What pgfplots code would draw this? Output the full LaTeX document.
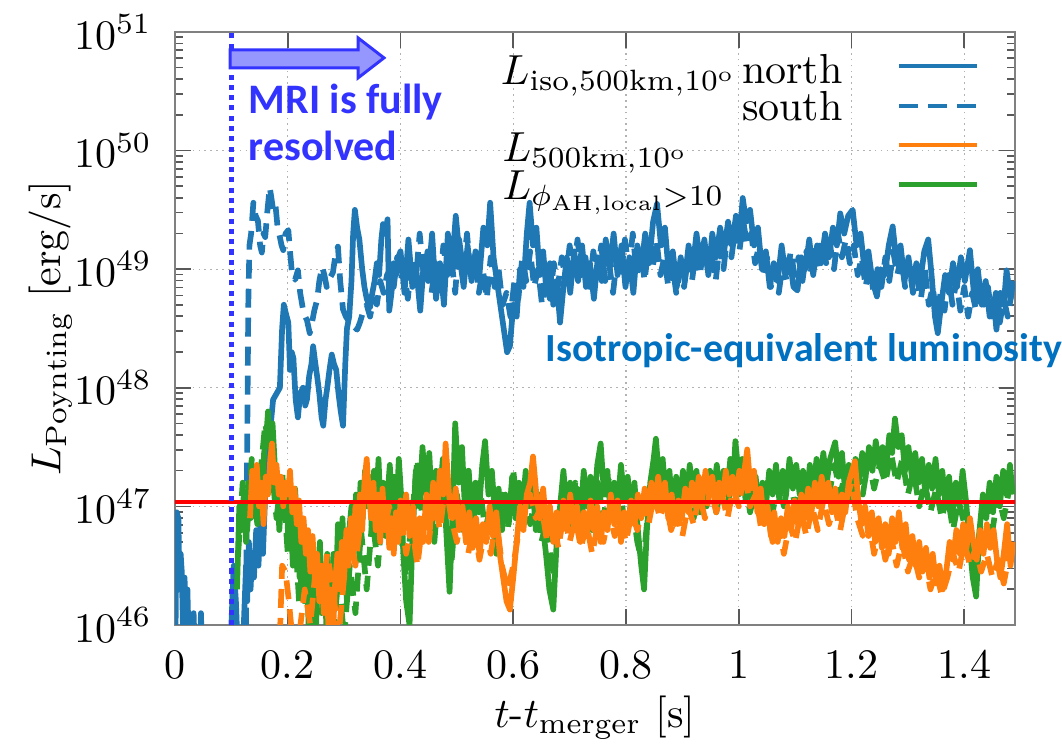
\documentclass[border=0pt]{standalone}
\usepackage{fontspec}
\usepackage{pgfplots}
\pgfplotsset{compat=1.18}
\usepackage{pgfplotstable}
\newfontfamily\carlito{Carlito}
\definecolor{cblue}{RGB}{31,119,180}
\definecolor{corange}{RGB}{255,127,14}
\definecolor{cgreen}{RGB}{44,160,44}
\definecolor{mriblue}{RGB}{51,51,255}
\definecolor{arrowfill}{RGB}{150,150,255}
\definecolor{isoblue}{RGB}{0,112,192}

% blue, north (solid): t, log10 L
\pgfplotstableread[row sep=\\]{
t L\\
0.000 45.5\\ 0.003 46.95\\ 0.006 46.9\\ 0.008 46.3\\ 0.010 46.6\\ 0.012 46.45\\ 0.014 46.0\\ 0.017 46.4\\
0.019 45.9\\ 0.022 46.3\\ 0.025 45.7\\ 0.030 45.6\\ 0.033 46.1\\ 0.036 45.6\\ 0.043 45.6\\ 0.046 46.1\\
0.049 45.6\\ 0.060 45.5\\ 0.070 45.5\\ 0.080 45.5\\ 0.095 45.5\\ 0.100 46.0\\ 0.104 46.5\\ 0.108 46.2\\
0.112 45.7\\ 0.118 45.6\\ 0.122 46.0\\ 0.126 46.5\\ 0.128 46.2\\ 0.131 46.7\\ 0.134 46.3\\ 0.137 46.6\\
0.140 46.4\\ 0.144 46.8\\ 0.148 46.5\\ 0.152 46.9\\ 0.156 46.6\\ 0.160 47.1\\ 0.164 47.4\\ 0.168 47.6\\
0.174 47.9\\ 0.180 47.95\\ 0.186 48.0\\ 0.190 48.5\\ 0.193 48.7\\ 0.197 48.62\\ 0.201 48.55\\ 0.204 48.15\\
0.207 48.3\\ 0.210 48.25\\ 0.214 47.9\\ 0.218 47.75\\ 0.222 47.95\\ 0.227 48.0\\ 0.231 47.85\\ 0.234 47.9\\
0.238 48.1\\ 0.242 48.2\\ 0.245 48.35\\ 0.249 48.2\\ 0.252 48.1\\ 0.256 47.95\\ 0.260 47.75\\ 0.263 47.68\\
0.267 47.9\\ 0.270 48.0\\ 0.274 48.15\\ 0.278 48.28\\ 0.282 48.2\\ 0.286 48.15\\ 0.290 47.95\\ 0.294 47.8\\
0.298 47.68\\ 0.302 48.2\\ 0.305 48.5\\ 0.309 48.6\\ 0.313 48.9\\ 0.316 49.3\\ 0.319 49.5\\ 0.323 49.35\\
0.327 49.25\\ 0.332 49.0\\ 0.336 48.85\\ 0.340 48.75\\ 0.346 48.68\\ 0.350 48.8\\ 0.354 48.9\\ 0.358 49.05\\
0.362 48.95\\ 0.366 49.25\\ 0.369 49.38\\ 0.373 49.3\\ 0.377 49.42\\ 0.380 48.65\\ 0.384 48.8\\ 0.388 49.05\\
0.392 48.95\\ 0.396 49.1\\ 0.400 49.15\\ 0.407 48.8\\ 0.414 49.25\\ 0.421 48.85\\ 0.428 49.0\\ 0.435 48.65\\
0.442 49.1\\ 0.449 48.9\\ 0.456 49.3\\ 0.463 48.75\\ 0.470 49.05\\ 0.477 48.7\\ 0.484 49.3\\ 0.491 49.0\\
0.498 49.45\\ 0.505 49.1\\ 0.512 48.85\\ 0.519 49.2\\ 0.526 48.9\\ 0.533 49.15\\ 0.540 48.95\\ 0.547 49.35\\
0.554 49.2\\ 0.559 49.56\\ 0.565 49.1\\ 0.571 48.9\\ 0.577 48.7\\ 0.583 48.5\\ 0.589 48.3\\ 0.594 48.35\\
0.600 48.7\\ 0.606 48.6\\ 0.612 49.0\\ 0.618 48.85\\ 0.624 49.3\\ 0.629 49.56\\ 0.635 49.2\\ 0.641 49.35\\
0.647 48.95\\ 0.653 49.15\\ 0.659 48.8\\ 0.665 49.05\\ 0.671 48.7\\ 0.677 48.9\\ 0.683 48.55\\ 0.689 48.85\\
0.695 49.1\\ 0.701 48.8\\ 0.708 49.15\\ 0.715 48.9\\ 0.722 49.2\\ 0.729 48.85\\ 0.736 49.05\\ 0.743 48.75\\
0.750 49.1\\ 0.757 48.9\\ 0.764 49.25\\ 0.771 49.0\\ 0.778 49.3\\ 0.785 48.95\\ 0.792 49.2\\ 0.799 48.85\\
0.806 49.1\\ 0.813 48.8\\ 0.820 49.2\\ 0.827 49.0\\ 0.834 49.3\\ 0.841 49.05\\ 0.848 49.4\\ 0.855 49.55\\
0.862 49.2\\ 0.869 49.35\\ 0.876 48.95\\ 0.883 49.15\\ 0.890 48.85\\ 0.897 49.1\\ 0.904 48.9\\ 0.911 49.2\\
0.918 49.0\\ 0.925 49.3\\ 0.932 49.05\\ 0.939 49.25\\ 0.946 48.95\\ 0.953 49.3\\ 0.960 49.1\\ 0.967 49.35\\
0.974 49.15\\ 0.981 49.4\\ 0.988 49.2\\ 0.995 49.45\\ 1.002 49.3\\ 1.007 49.6\\ 1.013 49.4\\ 1.020 49.5\\
1.027 49.2\\ 1.034 49.35\\ 1.041 49.0\\ 1.048 49.15\\ 1.055 48.85\\ 1.062 49.05\\ 1.069 48.9\\ 1.076 49.2\\
1.083 48.95\\ 1.090 49.1\\ 1.097 48.85\\ 1.104 48.82\\ 1.111 49.1\\ 1.118 49.0\\ 1.125 49.25\\ 1.132 48.95\\
1.139 49.2\\ 1.146 49.05\\ 1.153 49.3\\ 1.160 49.1\\ 1.167 49.35\\ 1.174 49.2\\ 1.180 49.47\\ 1.187 49.3\\
1.194 49.45\\ 1.202 49.5\\ 1.209 49.2\\ 1.216 49.3\\ 1.223 49.0\\ 1.230 49.15\\ 1.237 48.9\\ 1.245 48.77\\
1.252 49.0\\ 1.259 48.95\\ 1.266 49.2\\ 1.273 49.36\\ 1.280 49.05\\ 1.287 49.2\\ 1.294 48.9\\ 1.301 49.1\\
1.308 48.85\\ 1.315 49.05\\ 1.322 48.9\\ 1.329 49.15\\ 1.336 49.25\\ 1.342 48.95\\ 1.348 48.6\\ 1.353 48.46\\
1.359 48.7\\ 1.366 48.95\\ 1.373 48.8\\ 1.380 49.05\\ 1.387 48.85\\ 1.394 49.1\\ 1.401 48.9\\ 1.410 49.16\\
1.417 48.8\\ 1.424 49.0\\ 1.431 48.7\\ 1.438 48.9\\ 1.445 48.6\\ 1.452 48.75\\ 1.457 48.49\\ 1.464 48.8\\
1.470 48.7\\ 1.475 48.99\\ 1.482 48.75\\ 1.487 48.9\\
}\bluenorth

% blue, south (dashed)
\pgfplotstableread[row sep=\\]{
t L\\
0.120 45.5\\ 0.126 46.0\\ 0.128 47.5\\ 0.130 48.7\\ 0.132 49.2\\ 0.135 49.3\\ 0.139 49.56\\ 0.143 49.45\\
0.147 49.41\\ 0.151 49.2\\ 0.154 49.14\\ 0.157 49.3\\ 0.160 49.27\\ 0.164 49.5\\ 0.168 49.69\\ 0.171 49.6\\
0.174 49.5\\ 0.178 49.55\\ 0.182 49.35\\ 0.186 49.27\\ 0.189 49.2\\ 0.192 49.16\\ 0.196 49.3\\ 0.201 49.33\\
0.204 49.15\\ 0.207 48.99\\ 0.210 48.95\\ 0.213 48.91\\ 0.218 48.99\\ 0.222 48.8\\ 0.227 48.66\\ 0.231 48.6\\
0.234 48.57\\ 0.239 48.46\\ 0.243 48.55\\ 0.247 48.65\\ 0.252 48.74\\ 0.256 48.9\\ 0.261 49.02\\ 0.265 48.95\\
0.269 48.85\\ 0.274 48.92\\ 0.280 48.97\\ 0.284 49.1\\ 0.289 49.19\\ 0.293 48.9\\ 0.298 48.66\\ 0.303 48.6\\
0.310 48.55\\ 0.316 48.52\\ 0.323 48.49\\ 0.328 48.55\\ 0.333 48.63\\ 0.340 48.7\\ 0.346 48.6\\ 0.352 48.75\\
0.358 48.7\\ 0.364 48.9\\ 0.370 48.8\\ 0.376 48.95\\ 0.382 49.0\\ 0.388 48.85\\ 0.394 49.1\\ 0.400 48.9\\
0.406 49.0\\ 0.413 48.75\\ 0.420 49.1\\ 0.427 48.9\\ 0.434 49.3\\ 0.441 48.95\\ 0.448 49.15\\ 0.455 48.8\\
0.462 49.05\\ 0.469 48.85\\ 0.476 49.2\\ 0.483 48.95\\ 0.490 49.1\\ 0.497 48.8\\ 0.504 49.25\\ 0.511 49.0\\
0.518 49.3\\ 0.525 48.9\\ 0.532 49.1\\ 0.539 48.8\\ 0.546 49.0\\ 0.553 48.75\\ 0.560 49.1\\ 0.567 48.85\\
0.574 49.0\\ 0.581 48.7\\ 0.588 48.8\\ 0.595 48.6\\ 0.602 48.9\\ 0.609 48.75\\ 0.616 49.1\\ 0.623 48.9\\
0.630 49.15\\ 0.637 48.85\\ 0.644 49.0\\ 0.651 48.7\\ 0.658 48.9\\ 0.665 48.75\\ 0.672 49.05\\ 0.679 48.85\\
0.686 49.1\\ 0.693 48.9\\ 0.700 49.2\\ 0.707 49.0\\ 0.714 49.25\\ 0.721 48.95\\ 0.728 49.1\\ 0.735 48.85\\
0.742 49.15\\ 0.749 48.95\\ 0.756 49.2\\ 0.763 48.9\\ 0.770 49.05\\ 0.777 48.8\\ 0.784 49.1\\ 0.791 48.95\\
0.798 49.25\\ 0.805 49.0\\ 0.812 49.3\\ 0.819 48.95\\ 0.826 49.15\\ 0.833 48.9\\ 0.840 49.2\\ 0.847 49.0\\
0.854 49.25\\ 0.861 48.95\\ 0.868 49.1\\ 0.875 48.85\\ 0.882 49.05\\ 0.889 48.8\\ 0.896 49.0\\ 0.903 48.85\\
0.910 49.1\\ 0.917 48.9\\ 0.924 49.15\\ 0.931 48.95\\ 0.938 49.2\\ 0.945 49.0\\ 0.952 49.1\\ 0.959 48.9\\
0.966 49.2\\ 0.973 49.0\\ 0.980 49.3\\ 0.987 49.1\\ 0.994 49.35\\ 1.001 49.15\\ 1.008 49.4\\ 1.015 49.2\\
1.022 49.3\\ 1.029 49.05\\ 1.036 49.2\\ 1.043 48.95\\ 1.050 49.1\\ 1.057 48.85\\ 1.064 49.0\\ 1.071 48.8\\
1.078 49.05\\ 1.085 48.9\\ 1.092 49.15\\ 1.099 48.95\\ 1.106 49.1\\ 1.113 48.9\\ 1.120 49.15\\ 1.127 48.95\\
1.134 49.2\\ 1.141 49.0\\ 1.148 49.25\\ 1.155 49.05\\ 1.162 49.2\\ 1.169 49.0\\ 1.176 49.3\\ 1.183 49.1\\
1.190 49.25\\ 1.197 49.05\\ 1.204 49.2\\ 1.211 48.95\\ 1.218 49.1\\ 1.225 48.85\\ 1.232 49.05\\ 1.239 48.8\\
1.246 49.0\\ 1.253 48.85\\ 1.260 49.1\\ 1.267 48.9\\ 1.274 49.15\\ 1.281 48.95\\ 1.288 49.1\\ 1.295 48.85\\
1.302 49.05\\ 1.309 48.8\\ 1.316 48.95\\ 1.323 48.75\\ 1.330 49.0\\ 1.337 48.7\\ 1.344 48.85\\ 1.351 48.6\\
1.358 48.8\\ 1.365 48.65\\ 1.372 48.95\\ 1.379 48.7\\ 1.386 48.9\\ 1.393 48.65\\ 1.400 48.85\\ 1.407 48.6\\
1.414 48.8\\ 1.421 48.65\\ 1.428 48.9\\ 1.435 48.7\\ 1.442 48.85\\ 1.449 48.6\\ 1.456 48.8\\ 1.463 48.55\\
1.470 48.75\\ 1.477 48.6\\ 1.484 48.8\\
}\bluesouth

% green, north (solid)
\pgfplotstableread[row sep=\\]{
t L\\
0.110 46.3\\ 0.114 47.0\\ 0.118 46.8\\ 0.122 47.1\\ 0.126 46.7\\ 0.130 47.2\\ 0.134 46.9\\ 0.138 47.3\\
0.142 47.0\\ 0.146 46.85\\ 0.150 47.3\\ 0.154 47.1\\ 0.158 47.45\\ 0.162 47.6\\ 0.165 47.8\\ 0.169 47.5\\
0.173 47.7\\ 0.177 47.35\\ 0.181 47.2\\ 0.185 46.8\\ 0.189 47.1\\ 0.193 46.9\\ 0.197 47.2\\ 0.201 46.7\\
0.205 46.95\\ 0.209 46.5\\ 0.213 47.15\\ 0.217 46.8\\ 0.221 46.4\\ 0.225 46.7\\ 0.229 46.2\\ 0.233 46.55\\
0.237 46.0\\ 0.241 46.6\\ 0.245 46.3\\ 0.249 45.8\\ 0.253 46.4\\ 0.257 46.7\\ 0.261 46.2\\ 0.265 46.5\\
0.269 45.9\\ 0.273 46.3\\ 0.277 46.0\\ 0.281 46.6\\ 0.285 46.2\\ 0.289 46.85\\ 0.293 46.4\\ 0.297 46.9\\
0.301 46.5\\ 0.305 46.2\\ 0.309 46.8\\ 0.313 47.0\\ 0.317 46.6\\ 0.321 47.1\\ 0.325 46.7\\ 0.329 47.2\\
0.333 46.9\\ 0.337 47.3\\ 0.341 47.0\\ 0.345 47.25\\ 0.349 46.8\\ 0.353 47.3\\ 0.357 47.05\\ 0.361 47.4\\
0.365 46.9\\ 0.369 47.2\\ 0.373 46.75\\ 0.377 47.1\\ 0.381 47.35\\ 0.385 46.95\\ 0.389 47.25\\ 0.393 47.0\\
0.397 47.4\\ 0.401 47.1\\ 0.405 46.6\\ 0.410 46.2\\ 0.416 46.0\\ 0.421 46.7\\ 0.427 47.3\\ 0.433 47.0\\
0.439 47.5\\ 0.445 47.1\\ 0.451 47.45\\ 0.457 46.9\\ 0.463 47.3\\ 0.469 47.05\\ 0.475 47.4\\ 0.481 46.8\\
0.487 46.28\\ 0.492 46.9\\ 0.497 47.7\\ 0.503 47.2\\ 0.509 47.5\\ 0.515 46.9\\ 0.521 47.3\\ 0.527 46.85\\
0.533 47.2\\ 0.539 46.95\\ 0.545 47.35\\ 0.550 47.55\\ 0.556 47.1\\ 0.562 47.3\\ 0.568 46.9\\ 0.574 47.15\\
0.580 46.8\\ 0.586 47.1\\ 0.592 46.85\\ 0.598 47.25\\ 0.604 46.9\\ 0.610 47.2\\ 0.616 46.95\\ 0.622 47.3\\
0.628 47.0\\ 0.634 47.2\\ 0.640 46.8\\ 0.646 47.1\\ 0.652 46.85\\ 0.658 46.6\\ 0.664 46.3\\ 0.671 46.13\\
0.677 46.7\\ 0.683 47.0\\ 0.689 47.3\\ 0.695 46.95\\ 0.701 47.2\\ 0.707 46.85\\ 0.713 47.15\\ 0.719 46.9\\
0.725 47.3\\ 0.731 47.0\\ 0.737 47.25\\ 0.743 46.95\\ 0.749 47.35\\ 0.755 47.53\\ 0.761 47.1\\ 0.767 47.3\\
0.773 46.9\\ 0.779 47.2\\ 0.785 47.0\\ 0.791 47.35\\ 0.797 47.05\\ 0.803 47.25\\ 0.809 46.95\\ 0.815 47.2\\
0.821 46.8\\ 0.827 46.5\\ 0.832 46.3\\ 0.837 46.8\\ 0.843 47.2\\ 0.849 47.4\\ 0.853 47.57\\ 0.859 47.2\\
0.865 47.4\\ 0.871 47.05\\ 0.877 47.3\\ 0.883 46.95\\ 0.889 47.25\\ 0.895 47.0\\ 0.901 47.3\\ 0.907 47.05\\
0.913 47.35\\ 0.919 47.1\\ 0.925 47.3\\ 0.931 46.95\\ 0.937 47.2\\ 0.943 47.0\\ 0.949 47.3\\ 0.955 47.1\\
0.961 47.35\\ 0.967 47.05\\ 0.973 47.3\\ 0.979 47.1\\ 0.985 47.4\\ 0.990 47.2\\ 0.994 47.55\\ 1.000 47.25\\
1.006 47.4\\ 1.012 47.05\\ 1.018 47.3\\ 1.024 47.0\\ 1.030 47.25\\ 1.036 46.95\\ 1.042 47.2\\ 1.048 47.0\\
1.054 47.3\\ 1.060 47.1\\ 1.066 47.35\\ 1.072 47.05\\ 1.078 47.3\\ 1.084 47.1\\ 1.090 47.4\\ 1.096 47.15\\
1.102 47.35\\ 1.108 47.1\\ 1.114 47.3\\ 1.120 47.05\\ 1.126 47.35\\ 1.132 47.15\\ 1.138 47.4\\ 1.144 47.2\\
1.150 47.45\\ 1.156 47.2\\ 1.162 47.4\\ 1.171 47.54\\ 1.177 47.25\\ 1.183 47.45\\ 1.189 47.1\\ 1.195 47.35\\
1.201 47.15\\ 1.207 47.4\\ 1.213 47.2\\ 1.219 47.45\\ 1.225 47.25\\ 1.231 47.5\\ 1.237 47.3\\ 1.243 47.55\\
1.249 47.35\\ 1.255 47.5\\ 1.261 47.3\\ 1.267 47.6\\ 1.272 47.45\\ 1.277 47.74\\ 1.283 47.5\\ 1.289 47.6\\
1.295 47.3\\ 1.301 47.5\\ 1.307 47.25\\ 1.313 47.45\\ 1.319 47.2\\ 1.325 47.4\\ 1.331 47.1\\ 1.337 47.35\\
1.343 47.15\\ 1.349 47.4\\ 1.355 47.1\\ 1.361 47.3\\ 1.367 47.0\\ 1.373 47.25\\ 1.379 46.95\\ 1.385 47.2\\
1.391 47.0\\ 1.397 47.3\\ 1.403 47.05\\ 1.409 46.7\\ 1.415 46.4\\ 1.421 46.24\\ 1.427 46.8\\ 1.433 47.1\\
1.439 46.9\\ 1.445 47.2\\ 1.451 46.95\\ 1.457 47.25\\ 1.463 47.0\\ 1.469 47.3\\ 1.475 47.1\\ 1.481 47.35\\
1.486 47.1\\
}\greennorth

% green, south (dashed)
\pgfplotstableread[row sep=\\]{
t L\\
0.112 46.6\\ 0.120 47.2\\ 0.128 46.8\\ 0.136 47.4\\ 0.144 46.9\\ 0.152 47.3\\ 0.160 47.7\\ 0.170 47.4\\
0.180 46.9\\ 0.190 47.3\\ 0.200 46.6\\ 0.210 47.0\\ 0.220 46.2\\ 0.230 46.7\\ 0.240 45.9\\ 0.250 46.5\\
0.260 46.1\\ 0.270 46.6\\ 0.280 45.9\\ 0.290 46.4\\ 0.300 45.9\\ 0.310 46.5\\ 0.320 46.1\\ 0.330 46.8\\
0.340 46.3\\ 0.350 46.9\\ 0.360 46.5\\ 0.370 47.1\\ 0.380 46.7\\ 0.390 47.2\\ 0.400 46.8\\ 0.410 46.4\\
0.420 46.9\\ 0.430 47.4\\ 0.440 46.8\\ 0.450 47.2\\ 0.460 46.7\\ 0.470 47.3\\ 0.480 46.9\\ 0.490 46.5\\
0.500 47.1\\ 0.510 46.8\\ 0.520 47.3\\ 0.530 46.9\\ 0.540 47.2\\ 0.550 46.8\\ 0.560 47.0\\ 0.570 46.6\\
0.580 47.1\\ 0.590 46.8\\ 0.600 47.3\\ 0.610 46.9\\ 0.620 47.2\\ 0.630 46.85\\ 0.640 47.1\\ 0.650 46.7\\
0.660 46.9\\ 0.670 46.4\\ 0.680 46.8\\ 0.690 47.1\\ 0.700 46.8\\ 0.710 47.2\\ 0.720 46.9\\ 0.730 47.15\\
0.740 46.8\\ 0.750 47.2\\ 0.760 46.9\\ 0.770 47.25\\ 0.780 46.95\\ 0.790 47.1\\ 0.800 46.8\\ 0.810 47.05\\
0.820 46.7\\ 0.830 46.5\\ 0.840 47.0\\ 0.850 47.3\\ 0.860 47.0\\ 0.870 47.25\\ 0.880 46.9\\ 0.890 47.15\\
0.900 46.95\\ 0.910 47.2\\ 0.920 46.9\\ 0.930 47.15\\ 0.940 47.0\\ 0.950 47.25\\ 0.960 46.95\\ 0.970 47.2\\
0.980 47.0\\ 0.990 47.3\\ 1.000 47.1\\ 1.010 47.25\\ 1.020 46.95\\ 1.030 47.15\\ 1.040 46.9\\ 1.050 47.2\\
1.060 46.95\\ 1.070 47.2\\ 1.080 47.0\\ 1.090 47.25\\ 1.100 47.0\\ 1.110 47.2\\ 1.120 46.95\\ 1.130 47.25\\
1.140 47.05\\ 1.150 47.3\\ 1.160 47.1\\ 1.170 47.35\\ 1.180 47.1\\ 1.190 47.3\\ 1.200 47.05\\ 1.210 47.3\\
1.220 47.1\\ 1.230 47.4\\ 1.240 47.15\\ 1.250 47.35\\ 1.260 47.2\\ 1.270 47.45\\ 1.280 47.2\\ 1.290 47.4\\
1.300 47.1\\ 1.310 47.3\\ 1.320 47.0\\ 1.330 47.2\\ 1.340 46.95\\ 1.350 47.15\\ 1.360 46.9\\ 1.370 47.1\\
1.380 46.8\\ 1.390 47.05\\ 1.400 46.85\\ 1.410 46.6\\ 1.420 46.5\\ 1.430 46.9\\ 1.440 47.0\\ 1.450 46.8\\
1.460 47.1\\ 1.470 46.9\\ 1.480 47.15\\
}\greensouth

% orange, north (solid)
\pgfplotstableread[row sep=\\]{
t L\\
0.133 46.9\\ 0.137 47.3\\ 0.141 47.05\\ 0.145 47.35\\ 0.149 47.0\\ 0.153 47.2\\ 0.157 46.85\\ 0.161 47.25\\
0.165 47.1\\ 0.169 47.4\\ 0.172 47.53\\ 0.176 47.2\\ 0.180 47.35\\ 0.184 47.1\\ 0.188 47.25\\ 0.192 47.0\\
0.196 47.2\\ 0.200 47.1\\ 0.204 47.3\\ 0.208 46.95\\ 0.212 47.15\\ 0.216 46.85\\ 0.220 47.05\\ 0.224 46.7\\
0.228 46.9\\ 0.232 46.6\\ 0.236 46.8\\ 0.240 46.45\\ 0.244 46.75\\ 0.248 46.4\\ 0.252 46.6\\ 0.256 46.2\\
0.260 46.5\\ 0.264 46.1\\ 0.268 46.45\\ 0.272 46.0\\ 0.276 46.3\\ 0.280 45.9\\ 0.284 46.35\\ 0.288 46.6\\
0.292 46.3\\ 0.296 46.7\\ 0.300 46.4\\ 0.304 46.8\\ 0.308 46.5\\ 0.312 46.9\\ 0.316 46.6\\ 0.320 47.0\\
0.324 46.7\\ 0.328 47.1\\ 0.332 46.8\\ 0.336 47.2\\ 0.340 47.4\\ 0.344 47.1\\ 0.348 46.9\\ 0.352 47.2\\
0.356 46.8\\ 0.360 47.0\\ 0.364 46.7\\ 0.368 47.15\\ 0.372 46.8\\ 0.376 47.0\\ 0.380 46.65\\ 0.384 46.9\\
0.388 46.6\\ 0.392 46.95\\ 0.396 46.7\\ 0.400 47.05\\ 0.405 46.8\\ 0.410 47.1\\ 0.416 46.75\\ 0.422 47.0\\
0.428 46.6\\ 0.434 46.9\\ 0.440 46.7\\ 0.446 47.1\\ 0.452 46.8\\ 0.458 47.2\\ 0.464 46.9\\ 0.470 47.3\\
0.476 47.1\\ 0.480 47.53\\ 0.486 47.1\\ 0.492 46.9\\ 0.498 47.15\\ 0.504 46.8\\ 0.510 47.0\\ 0.516 46.7\\
0.522 46.95\\ 0.528 46.65\\ 0.534 46.9\\ 0.540 46.6\\ 0.546 46.85\\ 0.552 46.7\\ 0.558 47.0\\ 0.564 46.75\\
0.570 46.95\\ 0.576 46.6\\ 0.582 46.4\\ 0.588 46.2\\ 0.594 46.13\\ 0.600 46.4\\ 0.606 46.7\\ 0.612 47.0\\
0.618 46.8\\ 0.624 47.1\\ 0.630 47.2\\ 0.635 47.42\\ 0.641 47.1\\ 0.647 46.9\\ 0.653 47.15\\ 0.659 46.8\\
0.665 47.0\\ 0.671 46.7\\ 0.677 46.95\\ 0.683 46.75\\ 0.689 47.05\\ 0.695 46.8\\ 0.701 47.1\\ 0.707 46.85\\
0.713 47.0\\ 0.719 46.7\\ 0.725 46.95\\ 0.731 46.75\\ 0.737 47.05\\ 0.743 46.8\\ 0.749 47.0\\ 0.755 46.7\\
0.761 46.95\\ 0.767 46.8\\ 0.773 47.1\\ 0.779 46.85\\ 0.785 47.05\\ 0.791 46.7\\ 0.797 46.95\\ 0.803 46.8\\
0.809 47.05\\ 0.815 46.85\\ 0.821 47.1\\ 0.827 46.9\\ 0.833 47.15\\ 0.839 46.95\\ 0.845 47.2\\ 0.851 47.0\\
0.857 47.25\\ 0.863 47.0\\ 0.869 47.2\\ 0.875 46.9\\ 0.881 47.1\\ 0.887 46.85\\ 0.893 47.05\\ 0.899 46.9\\
0.905 47.15\\ 0.911 46.95\\ 0.917 47.2\\ 0.923 47.0\\ 0.929 47.25\\ 0.935 47.05\\ 0.941 47.3\\ 0.947 47.1\\
0.953 47.25\\ 0.959 47.0\\ 0.965 47.2\\ 0.971 47.05\\ 0.977 47.3\\ 0.983 47.1\\ 0.989 47.25\\ 0.995 47.05\\
1.001 47.3\\ 1.007 47.2\\ 1.015 47.48\\ 1.021 47.15\\ 1.027 47.3\\ 1.033 46.95\\ 1.039 47.15\\ 1.045 46.85\\
1.051 47.0\\ 1.057 46.75\\ 1.063 46.95\\ 1.069 46.7\\ 1.075 46.9\\ 1.081 46.75\\ 1.087 47.0\\ 1.093 46.8\\
1.099 47.05\\ 1.105 46.85\\ 1.111 47.1\\ 1.117 46.9\\ 1.123 47.15\\ 1.129 46.95\\ 1.135 47.2\\ 1.141 47.0\\
1.147 47.25\\ 1.153 47.05\\ 1.159 47.2\\ 1.165 46.95\\ 1.171 47.15\\ 1.177 46.9\\ 1.183 47.1\\ 1.189 46.95\\
1.195 47.2\\ 1.201 47.3\\ 1.206 47.38\\ 1.212 47.05\\ 1.218 46.85\\ 1.224 47.0\\ 1.230 46.75\\ 1.236 46.95\\
1.242 46.7\\ 1.248 46.9\\ 1.254 46.65\\ 1.260 46.85\\ 1.266 46.6\\ 1.272 46.9\\ 1.278 46.7\\ 1.284 46.95\\
1.290 46.65\\ 1.296 46.85\\ 1.302 46.55\\ 1.308 46.75\\ 1.314 46.5\\ 1.320 46.7\\ 1.326 46.45\\ 1.332 46.65\\
1.338 46.4\\ 1.344 46.6\\ 1.350 46.35\\ 1.356 46.5\\ 1.362 46.3\\ 1.368 46.45\\ 1.374 46.7\\ 1.380 46.55\\
1.386 46.8\\ 1.392 46.6\\ 1.398 46.85\\ 1.404 46.65\\ 1.410 46.9\\ 1.416 46.7\\ 1.422 46.55\\ 1.428 46.8\\
1.434 46.6\\ 1.440 46.85\\ 1.446 46.65\\ 1.452 46.8\\ 1.458 46.55\\ 1.464 46.4\\ 1.470 46.6\\ 1.476 46.85\\
1.482 46.5\\ 1.487 46.7\\
}\orangenorth

% orange, south (dashed)
\pgfplotstableread[row sep=\\]{
t L\\
0.186 45.9\\ 0.190 46.5\\ 0.196 46.45\\ 0.202 46.2\\ 0.210 45.8\\ 0.220 45.9\\ 0.230 46.3\\ 0.240 46.0\\
0.250 46.5\\ 0.260 46.2\\ 0.270 46.6\\ 0.280 46.3\\ 0.290 45.9\\ 0.300 46.4\\ 0.310 46.8\\ 0.320 46.5\\
0.330 46.9\\ 0.340 47.2\\ 0.350 46.9\\ 0.360 47.1\\ 0.370 46.8\\ 0.380 47.0\\ 0.390 46.7\\ 0.400 46.95\\
0.410 46.6\\ 0.420 46.85\\ 0.430 46.5\\ 0.440 46.9\\ 0.450 46.7\\ 0.460 47.05\\ 0.470 46.8\\ 0.480 47.2\\
0.490 46.9\\ 0.500 46.7\\ 0.510 46.95\\ 0.520 46.6\\ 0.530 46.85\\ 0.540 46.55\\ 0.550 46.8\\ 0.560 46.6\\
0.570 46.9\\ 0.580 46.5\\ 0.590 46.3\\ 0.600 46.5\\ 0.610 46.8\\ 0.620 46.95\\ 0.630 47.1\\ 0.640 46.9\\
0.650 47.0\\ 0.660 46.7\\ 0.670 46.9\\ 0.680 46.65\\ 0.690 46.95\\ 0.700 46.7\\ 0.710 46.9\\ 0.720 46.65\\
0.730 46.85\\ 0.740 46.6\\ 0.750 46.85\\ 0.760 46.7\\ 0.770 46.95\\ 0.780 46.75\\ 0.790 46.9\\ 0.800 46.7\\
0.810 46.95\\ 0.820 46.8\\ 0.830 47.0\\ 0.840 46.85\\ 0.850 47.1\\ 0.860 46.9\\ 0.870 47.05\\ 0.880 46.8\\
0.890 46.95\\ 0.900 46.75\\ 0.910 47.0\\ 0.920 46.85\\ 0.930 47.1\\ 0.940 46.9\\ 0.950 47.15\\ 0.960 46.95\\
0.970 47.1\\ 0.980 46.9\\ 0.990 47.15\\ 1.000 47.0\\ 1.010 47.3\\ 1.020 47.0\\ 1.030 47.1\\ 1.040 46.8\\
1.050 46.95\\ 1.060 46.7\\ 1.070 46.85\\ 1.080 46.6\\ 1.090 46.85\\ 1.100 46.7\\ 1.110 46.95\\ 1.120 46.75\\
1.130 47.0\\ 1.140 46.8\\ 1.150 47.05\\ 1.160 46.85\\ 1.170 47.0\\ 1.180 46.8\\ 1.190 47.05\\ 1.200 47.2\\
1.210 46.9\\ 1.220 46.75\\ 1.230 46.9\\ 1.240 46.6\\ 1.250 46.8\\ 1.260 46.55\\ 1.270 46.75\\ 1.280 46.5\\
1.290 46.7\\ 1.300 46.45\\ 1.310 46.6\\ 1.320 46.4\\ 1.330 46.55\\ 1.340 46.3\\ 1.350 46.45\\ 1.360 46.25\\
1.370 46.4\\ 1.380 46.6\\ 1.390 46.45\\ 1.400 46.7\\ 1.410 46.5\\ 1.420 46.65\\ 1.430 46.45\\ 1.440 46.6\\
1.450 46.4\\ 1.460 46.55\\ 1.470 46.35\\ 1.480 46.6\\
}\orangesouth

\begin{document}
\begin{tikzpicture}
\begin{axis}[
  scale only axis, width=200pt, height=141.2pt,
  xmin=0, xmax=1.49, ymode=log, ymin=1e46, ymax=1e51,
  xtick={0,0.2,0.4,0.6,0.8,1,1.2,1.4},
  xticklabels={0,0.2,0.4,0.6,0.8,1,1.2,1.4},
  ytick={1e46,1e47,1e48,1e49,1e50,1e51},
  grid=major, major grid style={densely dotted, gray!60, line width=0.3pt},
  tick align=inside, major tick length=3.8pt, minor tick length=2pt,
  axis line style={gray}, every tick/.style={gray!70!black, line width=0.4pt},
  xticklabel style={yshift=-2.5pt}, yticklabel style={xshift=-2pt},
  xlabel={$t$-$t_{\mathrm{merger}}$ [s]},
  ylabel={$L_{\mathrm{Poynting}}$ [erg/s]},
  xlabel style={at={(axis description cs:0.5,-0.157)}, anchor=center},
  ylabel style={at={(axis description cs:-0.148,0.5)}, anchor=center},
  clip mode=individual,
  every axis plot/.append style={line width=1.35pt, line join=round},
]
\addplot[cblue] table[x=t, y expr=10^\thisrow{L}] {\bluenorth};
\addplot[cblue, dash pattern=on 4.5pt off 2.4pt] table[x=t, y expr=10^\thisrow{L}] {\bluesouth};
\addplot[cgreen, dash pattern=on 4.5pt off 2.4pt] table[x=t, y expr=10^\thisrow{L}] {\greensouth};
\addplot[cgreen] table[x=t, y expr=10^\thisrow{L}] {\greennorth};
\addplot[corange, dash pattern=on 4.5pt off 2.4pt] table[x=t, y expr=10^\thisrow{L}] {\orangesouth};
\addplot[corange] table[x=t, y expr=10^\thisrow{L}] {\orangenorth};
\addplot[red, line width=1pt] coordinates {(0,1.08e47) (1.49,1.08e47)};
\addplot[mriblue, line width=1.25pt, dash pattern=on 1.2pt off 1.25pt] coordinates {(0.1,1e46) (0.1,1e51)};

% legend (gnuplot style)
\node[anchor=base west, inner sep=0pt] at (rel axis cs:0.387,0.912) {$L_{\mathrm{iso,500km,10^o}}$};
\node[anchor=base west, inner sep=0pt] at (rel axis cs:0.674,0.913) {north};
\node[anchor=base west, inner sep=0pt] at (rel axis cs:0.674,0.850) {south};
\node[anchor=base west, inner sep=0pt] at (rel axis cs:0.389,0.7816) {$L_{\mathrm{500km,10^o}}$};
\node[anchor=base west, inner sep=0pt] at (rel axis cs:0.389,0.7175) {$L_{\phi_{\mathrm{AH,local}}>10}$};
\draw[cblue, line width=1.1pt] (rel axis cs:0.862,0.9427) -- (rel axis cs:0.955,0.9427);
\draw[cblue, line width=1.1pt, dash pattern=on 4.5pt off 2.4pt] (rel axis cs:0.862,0.875) -- (rel axis cs:0.955,0.875);
\draw[corange, line width=1.1pt] (rel axis cs:0.862,0.809) -- (rel axis cs:0.955,0.809);
\draw[cgreen, line width=1.1pt] (rel axis cs:0.862,0.7425) -- (rel axis cs:0.955,0.7425);

% annotations
\draw[mriblue, line width=0.7pt, fill=arrowfill, line join=miter]
  (rel axis cs:0.0655,0.9696) -- (rel axis cs:0.2179,0.9696) -- (rel axis cs:0.2179,0.9899)
  -- (rel axis cs:0.2488,0.9562) -- (rel axis cs:0.2179,0.9224) -- (rel axis cs:0.2179,0.9393)
  -- (rel axis cs:0.0655,0.9393) -- cycle;
\node[anchor=base west, inner sep=0pt, text=mriblue, font=\carlito\bfseries\fontsize{10}{12}\selectfont] at (rel axis cs:0.0869,0.8629) {MRI is fully};
\node[anchor=base west, inner sep=0pt, text=mriblue, font=\carlito\bfseries\fontsize{10}{12}\selectfont] at (rel axis cs:0.0869,0.784) {resolved};
\node[anchor=base west, inner sep=0pt, text=isoblue, font=\carlito\bfseries\fontsize{9.5}{11}\selectfont] at (rel axis cs:0.4405,0.4435) {Isotropic-equivalent luminosity};
\end{axis}
\pgfresetboundingbox
\path (current axis.south west) +(-41.67pt,-29.76pt) (current axis.north east) +(11.19pt,7.62pt);
\end{tikzpicture}
\end{document}
